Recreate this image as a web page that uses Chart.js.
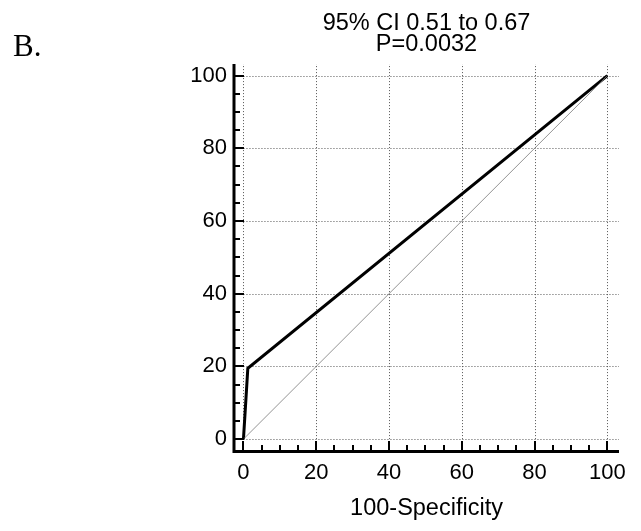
<!DOCTYPE html>
<html>
<head>
<meta charset="utf-8">
<script src="https://cdn.jsdelivr.net/npm/chart.js@4.4.1/dist/chart.umd.min.js"></script>
<style>
    html, body { margin: 0; padding: 0; background: #fff; }
    #wrap { width: 641px; height: 531px; position: relative; }
</style>
</head>
<body>
<div id="wrap"><canvas id="rocChart" width="641" height="531"></canvas></div>
<script>
// ROC curve points (100-Specificity vs Sensitivity)
const rocFpr = [0, 1.2, 100];
const rocTpr = [0, 19.5, 100];
// reference diagonal
const diagX = [0, 100];
const diagY = [0, 100];
// axis ticks
const majorTicks = [0, 20, 40, 60, 80, 100];
const minorTicks = [5, 10, 15, 25, 30, 35, 45, 50, 55, 65, 70, 75, 85, 90, 95];
const titleLines = ['95% CI 0.51 to 0.67', 'P=0.0032'];
const panelLabel = 'B.';
const xTitle = '100-Specificity';

const SANS = "'Liberation Sans', Arial, sans-serif";
Chart.defaults.font.family = SANS;
Chart.defaults.color = '#000';

function toPoints(xs, ys) {
    return xs.map((x, i) => ({ x: x, y: ys[i] }));
}

// Dotted grid, heavy axes with inward ticks, title text
const framePlugin = {
    id: 'frame',
    beforeDatasetsDraw(chart) {
        const { ctx, chartArea, scales } = chart;
        const xs = scales.x, ys = scales.y;
        ctx.save();
        ctx.strokeStyle = '#555';
        ctx.lineWidth = 1;
        ctx.setLineDash([1, 2]);
        const y0 = ys.getPixelForValue(0);
        const x0 = xs.getPixelForValue(0);
        majorTicks.forEach(v => {
            const px = Math.round(xs.getPixelForValue(v)) + 0.5;
            ctx.beginPath();
            ctx.moveTo(px, y0);
            ctx.lineTo(px, chartArea.top);
            ctx.stroke();
            const py = Math.round(ys.getPixelForValue(v)) + 0.5;
            ctx.beginPath();
            ctx.moveTo(x0, py);
            ctx.lineTo(chartArea.right, py);
            ctx.stroke();
        });
        ctx.restore();
    },
    afterDatasetsDraw(chart) {
        const { ctx, chartArea, scales } = chart;
        const xs = scales.x, ys = scales.y;
        const left = chartArea.left, bottom = chartArea.bottom;
        ctx.save();
        ctx.strokeStyle = '#000';
        ctx.lineCap = 'butt';

        // axis lines
        ctx.lineWidth = 3;
        ctx.beginPath();
        ctx.moveTo(left, chartArea.top);
        ctx.lineTo(left, bottom + 1.5);
        ctx.lineTo(chartArea.right, bottom + 1.5);
        ctx.stroke();

        // ticks
        ctx.lineWidth = 2;
        const drawTicks = (vals, len) => {
            vals.forEach(v => {
                const py = Math.round(ys.getPixelForValue(v));
                ctx.beginPath();
                ctx.moveTo(left, py);
                ctx.lineTo(left + len, py);
                ctx.stroke();
                const px = Math.round(xs.getPixelForValue(v));
                ctx.beginPath();
                ctx.moveTo(px, bottom);
                ctx.lineTo(px, bottom - len + 1);
                ctx.stroke();
            });
        };
        drawTicks(majorTicks, 10);
        drawTicks(minorTicks, 6);

        // title
        ctx.fillStyle = '#000';
        ctx.font = '23.5px ' + SANS;
        ctx.textAlign = 'center';
        ctx.textBaseline = 'alphabetic';
        const cx = (chartArea.left + chartArea.right) / 2;
        ctx.fillText(titleLines[0], cx, 30);
        ctx.fillText(titleLines[1], cx, 51);

        // panel label
        ctx.font = "31px 'Liberation Serif', 'Times New Roman', serif";
        ctx.textAlign = 'left';
        ctx.fillText(panelLabel, 13, 56);
        ctx.restore();
    }
};

const fixTicks = (scale) => {
    scale.ticks = majorTicks.map(v => ({ value: v }));
};

const chart = new Chart(document.getElementById('rocChart'), {
    type: 'scatter',
    data: {
        datasets: [
            {
                data: toPoints(diagX, diagY),
                showLine: true,
                borderColor: '#777',
                borderWidth: 0.8,
                pointRadius: 0,
                tension: 0
            },
            {
                data: toPoints(rocFpr, rocTpr),
                showLine: true,
                borderColor: '#000',
                borderWidth: 3,
                pointRadius: 0,
                tension: 0,
                borderJoinStyle: 'miter'
            }
        ]
    },
    options: {
        responsive: false,
        animation: false,
        layout: { padding: { left: 0, top: 64, right: 22, bottom: 0 } },
        plugins: {
            legend: { display: false },
            tooltip: { enabled: false },
            title: { display: false }
        },
        scales: {
            x: {
                type: 'linear',
                min: -2.6,
                max: 103.2,
                afterBuildTicks: fixTicks,
                afterFit(scale) { scale.height = 81; },
                grid: { display: false, drawTicks: false },
                border: { display: false },
                ticks: { font: { size: 22 }, padding: 10, maxRotation: 0, autoSkip: false },
                title: {
                    display: true,
                    text: xTitle,
                    font: { size: 23.5 },
                    padding: { top: 0, bottom: 8 }
                }
            },
            y: {
                type: 'linear',
                min: -3.0,
                max: 103.2,
                afterBuildTicks: fixTicks,
                afterFit(scale) { scale.width = 234; },
                grid: { display: false, drawTicks: false },
                border: { display: false },
                ticks: { font: { size: 22 }, padding: 7, autoSkip: false }
            }
        }
    },
    plugins: [framePlugin]
});
</script>
</body>
</html>
